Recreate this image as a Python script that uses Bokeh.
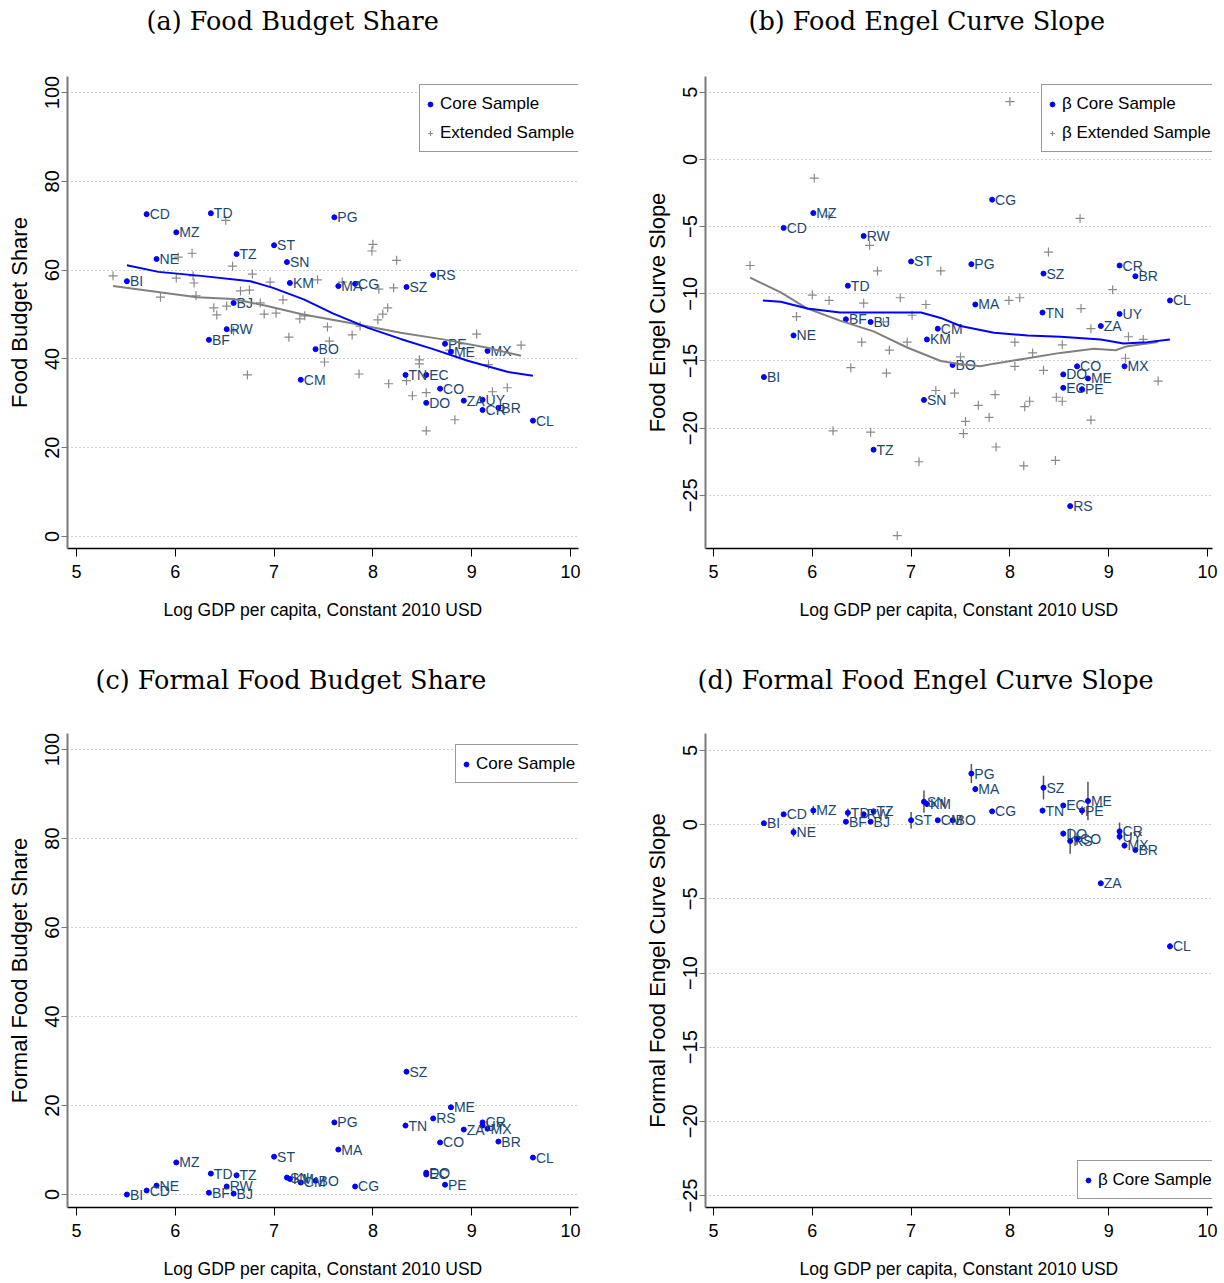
import math
from bokeh.plotting import figure
from bokeh.models import Range1d, Legend, LegendItem, Title, ColumnDataSource, FixedTicker
from bokeh.layouts import column, row
from bokeh.core.properties import value
from bokeh.embed import file_html
from bokeh.resources import INLINE

# ---------------- data ----------------
countries = ["BI", "CD", "NE", "MZ", "BF", "TD", "RW", "BJ", "TZ", "ST", "SN", "KM", "CM", "BO",
             "PG", "MA", "CG", "SZ", "TN", "EC", "DO", "RS", "CO", "PE", "ME", "ZA", "UY", "CR",
             "MX", "BR", "CL"]
log_gdp = [5.51, 5.71, 5.81, 6.01, 6.34, 6.36, 6.52, 6.59, 6.62, 7.00, 7.13, 7.16, 7.27, 7.42,
           7.61, 7.65, 7.82, 8.34, 8.33, 8.54, 8.54, 8.61, 8.68, 8.73, 8.79, 8.92, 9.11, 9.11,
           9.16, 9.27, 9.62]
food_share = [57.5, 72.6, 62.5, 68.5, 44.3, 72.8, 46.7, 52.6, 63.6, 65.6, 61.8, 57.1, 35.3, 42.2,
              71.9, 56.4, 56.9, 56.2, 36.4, 36.4, 30.1, 58.9, 33.3, 43.4, 41.6, 30.6, 30.8, 28.5,
              41.8, 29.0, 26.1]
food_slope = [-16.2, -5.1, -13.1, -4.0, -11.9, -9.4, -5.7, -12.1, -21.6, -7.6, -17.9, -13.4, -12.6, -15.3,
              -7.8, -10.8, -3.0, -8.5, -11.4, -17.0, -16.0, -25.8, -15.4, -17.1, -16.3, -12.4, -11.5, -7.9,
              -15.4, -8.7, -10.5]
formal_share = [0.0, 0.9, 2.0, 7.2, 0.4, 4.7, 1.8, 0.2, 4.3, 8.5, 3.8, 3.5, 2.7, 3.1,
                16.2, 10.1, 1.8, 27.6, 15.5, 4.5, 4.9, 17.1, 11.7, 2.2, 19.6, 14.6, 15.5, 16.2,
                14.8, 11.9, 8.3]
formal_slope = [0.1, 0.7, -0.5, 0.96, 0.2, 0.8, 0.7, 0.2, 0.9, 0.3, 1.55, 1.4, 0.3, 0.3,
                3.45, 2.4, 0.9, 2.5, 0.95, 1.3, -0.6, -1.1, -0.95, 0.95, 1.6, -3.95, -0.8, -0.45,
                -1.4, -1.7, -8.2]
formal_slope_ci = [0.1, 0.1, 0.3, 0.3, 0.1, 0.3, 0.1, 0.1, 0.15, 0.55, 0.75, 0.2, 0.1, 0.1,
                   0.65, 0.2, 0.1, 0.8, 0.2, 0.15, 0.2, 0.85, 0.4, 0.3, 1.3, 0.15, 0.2, 0.6,
                   0.2, 0.15, 0.2]

ext_share_x = [5.37, 5.85, 6.01, 6.03, 6.17, 6.18, 6.19, 6.21, 6.39, 6.42, 6.51, 6.52, 6.58, 6.59,
               6.66, 6.73, 6.75, 6.78, 6.86, 6.90, 6.96, 7.02, 7.09, 7.15, 7.26, 7.31, 7.44, 7.51,
               7.54, 7.56, 7.69, 7.79, 7.86, 7.87, 7.99, 8.00, 8.05, 8.06, 8.10, 8.15, 8.16, 8.21,
               8.24, 8.34, 8.40, 8.47, 8.47, 8.54, 8.54, 8.78, 8.83, 9.05, 9.17, 9.21, 9.36, 9.50]
ext_share_y = [58.7, 53.9, 58.2, 62.9, 63.8, 58.7, 57.1, 54.2, 51.5, 49.9, 71.2, 51.9, 60.9, 46.3,
               55.3, 36.4, 55.5, 59.1, 52.6, 50.1, 57.3, 50.3, 53.3, 44.9, 49.0, 49.7, 57.8, 39.3,
               47.2, 44.0, 57.3, 45.4, 36.6, 47.4, 64.3, 65.8, 48.8, 55.7, 50.1, 51.5, 34.4, 56.0,
               62.2, 35.1, 31.7, 39.8, 38.9, 32.4, 23.8, 42.0, 26.3, 45.6, 38.7, 32.6, 33.5, 43.1]

ext_slope_x = [5.37, 5.84, 6.00, 6.02, 6.17, 6.17, 6.21, 6.39, 6.50, 6.52, 6.58, 6.59, 6.66, 6.72,
               6.75, 6.78, 6.86, 6.89, 6.96, 7.01, 7.08, 7.15, 7.25, 7.30, 7.44, 7.50, 7.53, 7.55,
               7.68, 7.79, 7.85, 7.86, 7.99, 8.00, 8.05, 8.05, 8.10, 8.14, 8.15, 8.20, 8.23, 8.34,
               8.39, 8.46, 8.47, 8.53, 8.53, 8.71, 8.72, 8.82, 8.82, 9.04, 9.17, 9.20, 9.35, 9.50]
ext_slope_y = [-7.9, -11.7, -10.1, -1.4, -4.2, -10.5, -20.2, -15.5, -13.6, -10.7, -6.4, -20.3, -8.3, -12.1,
               -15.9, -14.2, -28.0, -10.3, -13.6, -11.6, -22.5, -10.8, -17.2, -8.3, -17.4, -14.7, -20.4, -19.5,
               -18.3, -19.2, -17.5, -21.4, -10.5, 4.3, -13.6, -15.4, -10.3, -22.8, -18.4, -18.0, -14.4, -15.7,
               -6.9, -22.4, -17.7, -13.8, -18.0, -4.4, -11.1, -12.6, -19.4, -9.7, -14.8, -13.2, -13.4, -16.5]

# lowess fits
fit_share_core_x = [5.51, 5.83, 6.26, 6.76, 6.99, 7.30, 7.60, 7.95, 8.28, 8.61, 8.96, 9.36, 9.62]
fit_share_core_y = [61.1, 59.6, 58.7, 57.5, 56.0, 53.4, 50.2, 47.0, 44.5, 42.2, 39.6, 37.1, 36.2]
fit_share_ext_x = [5.37, 6.22, 6.59, 6.93, 7.27, 7.77, 8.28, 8.71, 9.16, 9.50]
fit_share_ext_y = [56.4, 53.9, 53.5, 51.9, 50.1, 48.1, 45.9, 44.4, 42.5, 40.7]
fit_slope_core_x = [5.50, 5.68, 5.95, 6.28, 6.62, 7.10, 7.30, 7.50, 7.84, 8.18, 8.51, 8.92, 9.15, 9.39, 9.62]
fit_slope_core_y = [-10.5, -10.6, -11.1, -11.4, -11.4, -11.4, -11.8, -12.4, -12.9, -13.1, -13.2, -13.4, -13.7, -13.6, -13.4]
fit_slope_ext_x = [5.37, 5.68, 5.95, 6.28, 6.62, 6.96, 7.30, 7.47, 7.70, 7.84, 8.18, 8.51, 8.85, 9.07, 9.19, 9.39, 9.50]
fit_slope_ext_y = [-8.8, -9.9, -11.1, -12.0, -12.8, -14.0, -15.0, -15.2, -15.4, -15.2, -14.8, -14.4, -14.1, -14.2, -13.9, -13.7, -13.6]

x_ticks = [5, 6, 7, 8, 9, 10]
share_ticks = [0, 20, 40, 60, 80, 100]
slope_ticks = [-25, -20, -15, -10, -5, 0, 5]

# ---------------- styling ----------------
SANS = "Liberation Sans"
SERIF = "DejaVu Serif"
LABEL_COLOR = "#1a476f"
EXT_COLOR = "#8a8a8a"


def make_fig(w, h, bl, br, bt, bb, xr, yr, yticks, ylabel, title, title_off, filler):
    p = figure(width=w, height=h, x_range=Range1d(*xr), y_range=Range1d(*yr),
               output_backend="svg", toolbar_location=None,
               min_border_left=bl, min_border_right=br, min_border_top=bt, min_border_bottom=bb)
    p.outline_line_color = None
    p.xgrid.visible = False
    p.ygrid.ticker = FixedTicker(ticks=yticks)
    p.ygrid.grid_line_color = "#a0a0a0"
    p.ygrid.grid_line_dash = "1 3"
    p.ygrid.grid_line_width = 1

    xa = p.xaxis[0]
    xa.ticker = FixedTicker(ticks=x_ticks)
    xa.axis_line_color = "black"
    xa.axis_line_width = 1.5
    xa.major_tick_line_color = "black"
    xa.major_tick_out = 8
    xa.major_tick_in = 0
    xa.minor_tick_line_color = None
    xa.major_label_text_font = SANS
    xa.major_label_text_font_size = "18px"
    xa.major_label_text_color = "black"
    xa.major_label_standoff = 8
    xa.axis_label = "Log GDP per capita, Constant 2010 USD"
    xa.axis_label_text_font = SANS
    xa.axis_label_text_font_size = "17.5px"
    xa.axis_label_text_font_style = "normal"
    xa.axis_label_text_color = "black"
    xa.axis_label_standoff = 19

    ya = p.yaxis[0]
    ya.ticker = FixedTicker(ticks=yticks)
    ya.axis_line_color = "#7a7a7a"
    ya.axis_line_width = 2
    ya.major_tick_line_color = "#7a7a7a"
    ya.major_tick_out = 6
    ya.major_tick_in = 0
    ya.minor_tick_line_color = None
    ya.major_label_orientation = "vertical"
    ya.major_label_text_font = SANS
    ya.major_label_text_font_size = "20px"
    ya.major_label_text_color = "black"
    ya.major_label_standoff = 2
    ya.axis_label = ylabel
    ya.axis_label_text_font = SANS
    ya.axis_label_text_font_size = "22px"
    ya.axis_label_text_font_style = "normal"
    ya.axis_label_text_color = "black"
    ya.axis_label_standoff = 11

    # spacer next to the frame, then the caption above it
    p.add_layout(Title(text=" ", text_font_size="1px", standoff=filler), "above")
    p.add_layout(Title(text=title, text_font=SERIF, text_font_size="25.5px",
                       text_font_style="normal", text_color="black",
                       align="left", offset=title_off, vertical_align="middle",
                       standoff=9), "above")
    return p


def add_legend(p, items, loc):
    leg = Legend(items=items, location=loc, margin=0, padding=4,
                 glyph_width=12, glyph_height=12, label_standoff=4,
                 label_height=29, spacing=0,
                 label_text_font=SANS, label_text_font_size="17px", label_text_color="black",
                 border_line_color="#333333", border_line_width=1,
                 background_fill_color="white", background_fill_alpha=1)
    p.add_layout(leg)


def add_core(p, ys):
    src = ColumnDataSource(dict(x=log_gdp, y=ys, code=countries))
    r = p.scatter("x", "y", source=src, marker="circle", size=5, color="#0000ff")
    p.text("x", "y", text="code", source=src, x_offset=3, text_baseline="middle",
           text_align="left", text_font=value(SANS), text_font_size="14px",
           text_color=LABEL_COLOR)
    return r


# (a) Food Budget Share
pa = make_fig(612, 640, 67, 34, 75, 92, (4.909, 10.081), (-2.697, 103.6), share_ticks,
              "Food Budget Share", "(a) Food Budget Share", 79, 32)
ra_ext = pa.scatter(ext_share_x, ext_share_y, marker="cross", size=9, line_color=EXT_COLOR, line_width=1.2)
ra_core = add_core(pa, food_share)
pa.line(fit_share_ext_x, fit_share_ext_y, line_color="#808080", line_width=2)
pa.line(fit_share_core_x, fit_share_core_y, line_color="#0000ff", line_width=2)
add_legend(pa, [LegendItem(label="Core Sample", renderers=[ra_core]),
                LegendItem(label="Extended Sample", renderers=[ra_ext])], (352, 396))

# (b) Food Engel Curve Slope
pb = make_fig(612, 640, 93, 12, 75, 92, (4.919, 10.0506), (-28.953, 6.162), slope_ticks,
              "Food Engel Curve Slope", "(b) Food Engel Curve Slope", 43, 32)
rb_ext = pb.scatter(ext_slope_x, ext_slope_y, marker="cross", size=9, line_color=EXT_COLOR, line_width=1.2)
rb_core = add_core(pb, food_slope)
pb.line(fit_slope_ext_x, fit_slope_ext_y, line_color="#808080", line_width=2)
pb.line(fit_slope_core_x, fit_slope_core_y, line_color="#0000ff", line_width=2)
add_legend(pb, [LegendItem(label="β Core Sample", renderers=[rb_core]),
                LegendItem(label="β Extended Sample", renderers=[rb_ext])], (336, 396))

# (c) Formal Food Budget Share
pc = make_fig(612, 643, 67, 34, 93, 76, (4.909, 10.081), (-2.92, 103.6), share_ticks,
              "Formal Food Budget Share", "(c) Formal Food Budget Share", 28, 30)
rc_core = add_core(pc, formal_share)
add_legend(pc, [LegendItem(label="Core Sample", renderers=[rc_core])], (388, 424))

# (d) Formal Food Engel Curve Slope
pd = make_fig(612, 643, 93, 12, 93, 76, (4.919, 10.0506), (-25.81, 6.15), slope_ticks,
              "Formal Food Engel Curve Slope", "(d) Formal Food Engel Curve Slope", -8, 30)
lo = [v - c for v, c in zip(formal_slope, formal_slope_ci)]
hi = [v + c for v, c in zip(formal_slope, formal_slope_ci)]
pd.segment(x0=log_gdp, y0=lo, x1=log_gdp, y1=hi, line_color="#555555", line_width=1.5)
rd_core = add_core(pd, formal_slope)
add_legend(pd, [LegendItem(label="β Core Sample", renderers=[rd_core])], (372, 8))

layout = column(row(pa, pb), row(pc, pd))
open("out.html", "w").write(file_html(layout, INLINE))
